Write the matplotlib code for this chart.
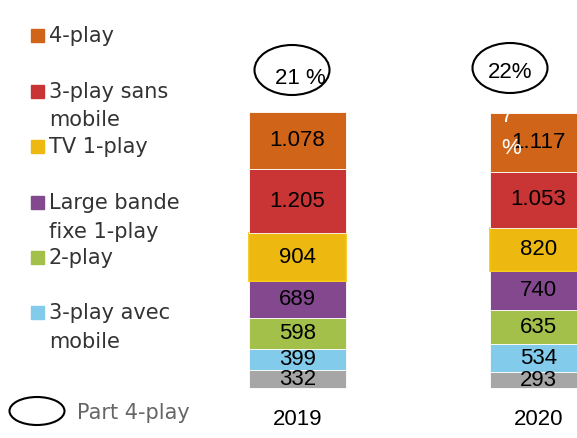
import matplotlib.pyplot as plt
from matplotlib.patches import Ellipse, Rectangle

years = ["2019", "2020"]
# stacked from the bottom up
gray = [332, 293]
play3_mobile = [399, 534]
play2 = [598, 635]
bande_fixe = [689, 740]
tv1 = [904, 820]
play3_sans = [1205, 1053]
play4 = [1078, 1117]
share_4play = ["21 %", "22%"]

stack = [gray, play3_mobile, play2, bande_fixe, tv1, play3_sans, play4]
colors = ["#A6A6A6", "#83CBEB", "#A2C04A", "#84488F", "#EDB911", "#C93434", "#D06418"]


def fmt(v):
    # french style thousands separator
    return f"{v/1000:.3f}" if v >= 1000 else str(v)


legend_items = [("4-play", "#D06418"), ("3-play sans\nmobile", "#C93434"),
                ("TV 1-play", "#EDB911"), ("Large bande\nfixe 1-play", "#84488F"),
                ("2-play", "#A2C04A"), ("3-play avec\nmobile", "#83CBEB")]

W, H = 577, 438
fig = plt.figure(figsize=(W / 100, H / 100), dpi=100)
ax = fig.add_axes([0, 0, 1, 1])
ax.set_xlim(-1.2344, 1.1598)
ax.set_ylim(-943, 7318)
ax.axis("off")

x = [0, 1]
bottom = [0, 0]
for vals, col in zip(stack, colors):
    ec = "#F5C400" if col == "#EDB911" else "white"
    ax.bar(x, vals, width=0.4025, bottom=bottom, color=col, edgecolor=ec,
           linewidth=0.6 if ec == "white" else 1.2)
    for xi, v, b in zip(x, vals, bottom):
        ax.text(xi, b + v / 2, fmt(v), ha="center", va="center",
                fontsize=16, family="Liberation Sans", color="black")
    bottom = [b + v for b, v in zip(bottom, vals)]

# year labels
for xi, yr in zip(x, years):
    ax.text(xi, -600, yr, ha="center", va="center", fontsize=16,
            family="Liberation Sans", color="black")

# 4-play share ellipses
ell_pos = [(292 / W, 1 - 70 / H), (510 / W, 1 - 68 / H)]
txt_pos = [(300 / W, 1 - 78 / H), (510 / W, 1 - 73 / H)]
for (ex, ey), (tx, ty), s in zip(ell_pos, txt_pos, share_4play):
    ax.add_patch(Ellipse((ex, ey), 75 / W, 50 / H, transform=ax.transAxes,
                         fill=False, edgecolor="black", linewidth=1.5))
    ax.text(tx, ty, s, transform=ax.transAxes, ha="center", va="center",
            fontsize=16, family="Liberation Sans")

# stray white label in the 2020 orange segment
ax.text(507 / W, 1 - 116 / H, "7", transform=ax.transAxes, ha="center", va="center",
        fontsize=16, family="Liberation Sans", color="white")
ax.text(511 / W, 1 - 148 / H, "%", transform=ax.transAxes, ha="center", va="center",
        fontsize=16, family="Liberation Sans", color="white")

# legend
leg_y = [35.5, 91, 146, 202, 257, 312]
for (lab, col), py in zip(legend_items, leg_y):
    ax.add_patch(Rectangle((31 / W, 1 - (py + 6.5) / H), 13 / W, 13 / H,
                           transform=ax.transAxes, color=col))
    for i, line in enumerate(lab.split("\n")):
        ax.text(49 / W, 1 - (py + 1 + i * 28.5) / H, line, transform=ax.transAxes,
                ha="left", va="center", fontsize=15, color="#333333")

ax.add_patch(Ellipse((37 / W, 1 - 411 / H), 55 / W, 28 / H, transform=ax.transAxes,
                     fill=False, edgecolor="black", linewidth=1.5))
ax.text(77 / W, 1 - 413 / H, "Part 4-play", transform=ax.transAxes, ha="left", va="center",
        fontsize=15, color="#666666")

fig.savefig("out.png", dpi=100)
